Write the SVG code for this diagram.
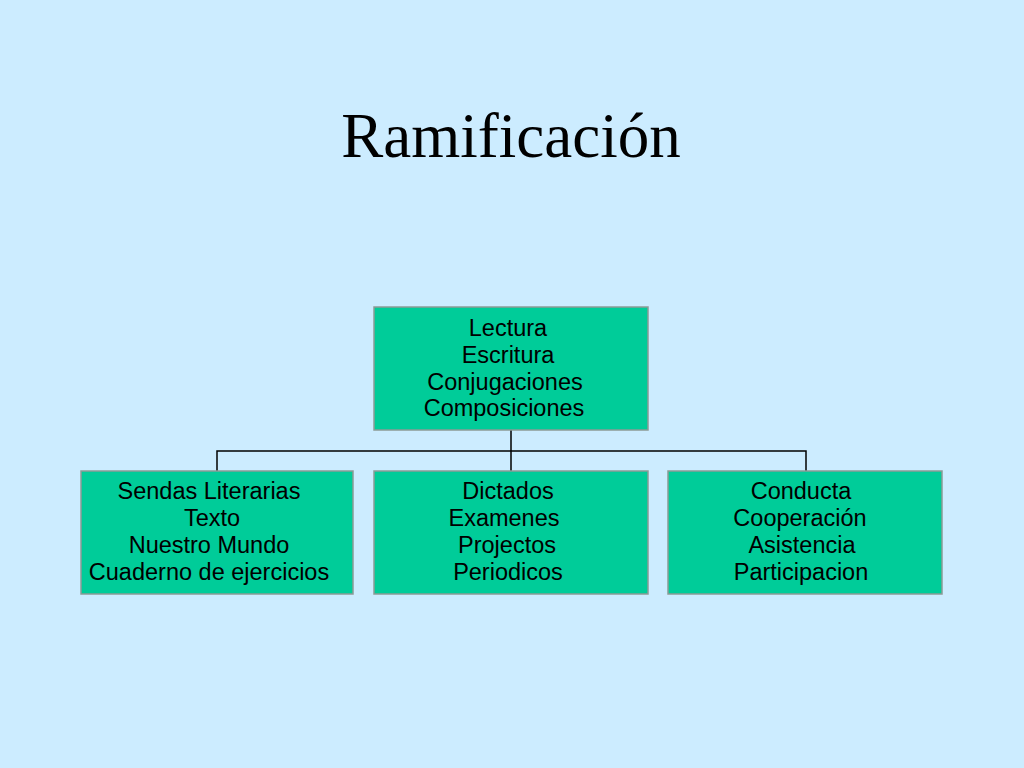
<svg xmlns="http://www.w3.org/2000/svg" width="1024" height="768" viewBox="0 0 1024 768">
<style>
.box{fill:#00CC99;stroke:#8C9A96;stroke-width:1.5}
.t{font-family:"Liberation Sans",Arial,sans-serif;font-size:23.5px;fill:#000;text-anchor:middle}
.title{font-family:"Liberation Serif","Times New Roman",serif;font-size:63px;fill:#000;text-anchor:middle}
.c{fill:none;stroke:#000;stroke-width:1.5}
</style>
<rect width="1024" height="768" fill="#CCECFF"/>
<text class="title" x="511" y="157">Ramificación</text>
<g id="connectors">
<path class="c" d="M511,430 V471 M217,471 V451 H806 V471"/>
</g>
<g id="root">
<rect class="box" x="374" y="307" width="274" height="123"/>
<text class="t" x="508" y="336">Lectura</text>
<text class="t" x="508" y="363">Escritura</text>
<text class="t" x="505" y="390">Conjugaciones</text>
<text class="t" x="504" y="416">Composiciones</text>
</g>
<g id="n1">
<rect class="box" x="81" y="471" width="272" height="123"/>
<text class="t" x="209" y="499">Sendas Literarias</text>
<text class="t" x="212" y="526">Texto</text>
<text class="t" x="209" y="553">Nuestro Mundo</text>
<text class="t" x="209" y="580">Cuaderno de ejercicios</text>
</g>
<g id="n2">
<rect class="box" x="374" y="471" width="274" height="123"/>
<text class="t" x="508" y="499">Dictados</text>
<text class="t" x="504" y="526">Examenes</text>
<text class="t" x="507" y="553">Projectos</text>
<text class="t" x="508" y="580">Periodicos</text>
</g>
<g id="n3">
<rect class="box" x="668" y="471" width="274" height="123"/>
<text class="t" x="801" y="499">Conducta</text>
<text class="t" x="800" y="526">Cooperación</text>
<text class="t" x="802" y="553">Asistencia</text>
<text class="t" x="801" y="580">Participacion</text>
</g>
</svg>
